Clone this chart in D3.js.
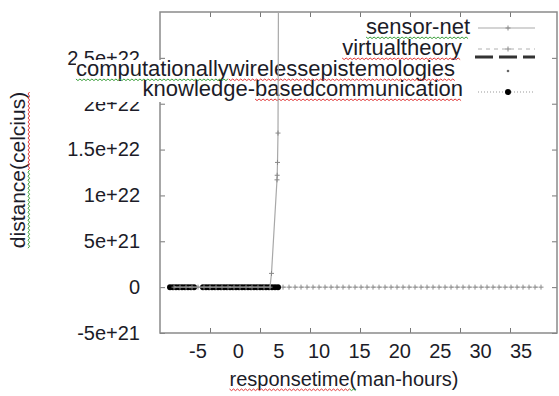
<!DOCTYPE html>
<html>
<head>
<meta charset="utf-8">
<script src="https://cdn.jsdelivr.net/npm/d3@7"></script>
<style>
  body { margin: 0; background: #fff; }
  svg text { font-family: "Liberation Sans", Arial, sans-serif; fill: #1c1c28; }
</style>
</head>
<body>
<svg id="chart" width="559" height="396"></svg>
<script>
// values
var xTicks = [-5, 0, 5, 10, 15, 20, 25, 30, 35];
var yTicks = [-5e21, 0, 5e21, 1e22, 1.5e22, 2e22, 2.5e22];
var yTickLabels = ["-5e+21", "0", "5e+21", "1e+22", "1.5e+22", "2e+22", "2.5e+22"];
var seriesNames = ["sensor-net", "virtualtheory", "computationallywirelessepistemologies", "knowledge-basedcommunication"];

var sensorNet = [[-8.6, 0], [-8.0, 0], [-7.4, 0], [-6.8, 0], [-6.2, 0], [-5.6, 0], [-5.0, 0], [-4.4, 0],
  [-3.8, 0], [-3.2, 0], [-2.6, 0], [-2.0, 0], [-1.4, 0], [-0.8, 0], [-0.2, 0], [0.4, 0], [1.0, 0],
  [1.15, 1.5e21], [1.7, 1.17e22], [1.72, 1.22e22], [1.75, 1.36e22], [1.8, 1.68e22], [1.85, 3.3e22]];

var virtualTheory = [[2.3, 0], [2.9, 0], [3.5, 0], [4.1, 0], [4.7, 0], [5.3, 0], [5.9, 0], [6.5, 0],
  [7.1, 0], [7.7, 0], [8.3, 0], [8.9, 0], [9.5, 0], [10.1, 0], [10.7, 0], [11.3, 0], [11.9, 0],
  [12.5, 0], [13.1, 0], [13.7, 0], [14.3, 0], [14.9, 0], [15.5, 0], [16.1, 0], [16.7, 0], [17.3, 0],
  [17.9, 0], [18.5, 0], [19.1, 0], [19.7, 0], [20.3, 0], [20.9, 0], [21.5, 0], [22.1, 0], [22.7, 0],
  [23.3, 0], [23.9, 0], [24.5, 0], [25.1, 0], [25.7, 0], [26.3, 0], [26.9, 0], [27.5, 0], [28.1, 0]];

var computational = [[-8.5, 0], [-7.0, 0], [-5.0, 0], [-3.0, 0], [-1.0, 0], [1.0, 0]];

var knowledgeBased = [[-9.0, 0], [-8.7, 0], [-8.4, 0], [-8.1, 0], [-7.8, 0], [-7.5, 0], [-7.2, 0],
  [-6.9, 0], [-6.6, 0], [-5.7, 0], [-5.4, 0], [-5.1, 0], [-4.8, 0], [-4.5, 0], [-4.2, 0], [-3.9, 0],
  [-3.6, 0], [-3.3, 0], [-3.0, 0], [-2.7, 0], [-2.4, 0], [-2.1, 0], [-1.8, 0], [-1.5, 0], [-1.2, 0],
  [-0.9, 0], [-0.6, 0], [-0.3, 0], [0.0, 0], [0.3, 0], [0.6, 0], [0.9, 0], [1.2, 0], [1.5, 0], [1.8, 0]];

var svg = d3.select("#chart"),
    frame = {left: 160, right: 557, top: 12, bottom: 333},
    green = "#3ca03c",
    red = "#e23a3a",
    plus = "M-2.5,0H2.5M0,-2.5V2.5";

// tick marks follow the plot, the printed labels sit a little tighter
var x = d3.scaleLinear().domain([-10, 29.7]).range([frame.left, frame.right]),
    xLabel = d3.scaleLinear().domain([-5, 35]).range([198, 521]),
    y = d3.scaleLinear().domain([-5e21, 3e22]).range([frame.bottom, frame.top]);

var line = d3.line().x(d => x(d[0])).y(d => y(d[1]));

// spell-check squiggle under part of a text node
function squiggle(g, node, from, count, color, dy) {
  var x0 = node.getStartPositionOfChar(from).x,
      x1 = node.getEndPositionOfChar(from + count - 1).x,
      y0 = node.getStartPositionOfChar(from).y + dy,
      pts = [];
  for (var px = x0, k = 0; px <= x1; px += 2, k++) pts.push([px, y0 + (k % 2 ? 1.6 : 0)]);
  g.append("path").attr("d", d3.line()(pts))
      .attr("fill", "none").attr("stroke", color).attr("stroke-width", 1);
}

// y tick labels
svg.append("g").selectAll("text")
  .data(yTicks)
  .enter().append("text")
    .attr("x", frame.left - 20)
    .attr("y", d => y(d))
    .attr("dy", "0.34em")
    .attr("text-anchor", "end")
    .style("font-size", "20px")
    .text((d, i) => yTickLabels[i]);

// x tick labels
svg.append("g").selectAll("text")
  .data(xTicks)
  .enter().append("text")
    .attr("x", d => xLabel(d))
    .attr("y", 358)
    .attr("text-anchor", "middle")
    .style("font-size", "20px")
    .text(d => d);

// axis titles
var xt = svg.append("g");
var xtText = xt.append("text")
    .attr("x", 344).attr("y", 386)
    .attr("text-anchor", "middle")
    .style("font-size", "20px")
    .text("responsetime(man-hours)");
squiggle(xt, xtText.node(), 0, 12, red, 3);
squiggle(xt, xtText.node(), 12, 1, green, 3);

var yt = svg.append("g").attr("transform", "translate(25,170) rotate(-90)");
var ytText = yt.append("text")
    .attr("text-anchor", "middle")
    .style("font-size", "21px")
    .text("distance(celcius)");
squiggle(yt, ytText.node(), 0, 8, green, 3);
squiggle(yt, ytText.node(), 8, 9, red, 3);

// frame and ticks
var axes = svg.append("g").attr("class", "axes");
var inside = xTicks.filter(d => d <= x.domain()[1]);
axes.append("g").attr("transform", "translate(0," + frame.bottom + ")")
    .call(d3.axisBottom(x).tickValues(inside).tickSize(-5).tickFormat(""));
axes.append("g").attr("transform", "translate(0," + frame.top + ")")
    .call(d3.axisTop(x).tickValues(inside).tickSize(-5).tickFormat(""));
axes.append("g").attr("transform", "translate(" + frame.left + ",0)")
    .call(d3.axisLeft(y).tickValues(yTicks).tickSize(-5).tickFormat(""));
axes.append("g").attr("transform", "translate(" + frame.right + ",0)")
    .call(d3.axisRight(y).tickValues(yTicks).tickSize(-5).tickFormat(""));
axes.selectAll(".domain").remove();
axes.selectAll(".tick line").attr("stroke", "#777");

svg.append("rect")
    .attr("x", frame.left).attr("y", frame.top)
    .attr("width", frame.right - frame.left).attr("height", frame.bottom - frame.top)
    .attr("fill", "none").attr("stroke", "#8a8a8a").attr("stroke-width", 1.5);

// key text, one white backing behind the two long rows
var legendRows = [
  {end: 470, base: 34, marks: [[0, 10, green]]},
  {end: 462, base: 55, marks: [[0, 13, red]]},
  {end: 455, base: 76, marks: [[0, 15, green], [15, 22, red]]},
  {end: 463, base: 96, marks: [[10, 18, red]]}
];

var key = svg.append("g");
var keyBg = key.append("rect").attr("fill", "#fff");
var boxes = [];
legendRows.forEach(function(row, i) {
  var t = key.append("text")
      .attr("x", row.end).attr("y", row.base)
      .attr("text-anchor", "end")
      .style("font-size", "22px")
      .text(seriesNames[i]);
  boxes.push(t.node().getBBox());
  row.marks.forEach(m => squiggle(key, t.node(), m[0], m[1], m[2], 3));
});
var bx0 = d3.min(boxes, b => b.x),
    by0 = boxes[2].y + 4,
    by1 = boxes[3].y + boxes[3].height + 1;
keyBg.attr("x", bx0).attr("y", by0).attr("width", 540 - bx0).attr("height", by1 - by0);

// data
svg.append("clipPath").attr("id", "clip")
  .append("rect")
    .attr("x", frame.left).attr("y", frame.top)
    .attr("width", frame.right - frame.left).attr("height", frame.bottom - frame.top);

var plot = svg.append("g").attr("clip-path", "url(#clip)");

plot.append("path").datum(virtualTheory)
    .attr("d", line).attr("fill", "none")
    .attr("stroke", "#b0b0b0").attr("stroke-width", 1).attr("stroke-dasharray", "3,3");
plot.append("g").selectAll("path")
  .data(virtualTheory)
  .enter().append("path")
    .attr("d", plus)
    .attr("transform", d => "translate(" + x(d[0]) + "," + y(d[1]) + ")")
    .attr("stroke", "#8a8a8a").attr("stroke-width", 1);

plot.append("path").datum(knowledgeBased)
    .attr("d", line).attr("fill", "none")
    .attr("stroke", "#999").attr("stroke-dasharray", "1,2");
plot.append("g").selectAll("circle")
  .data(knowledgeBased)
  .enter().append("circle")
    .attr("cx", d => x(d[0])).attr("cy", d => y(d[1]))
    .attr("r", 3).attr("fill", "#000");

plot.append("g").selectAll("circle")
  .data(computational)
  .enter().append("circle")
    .attr("cx", d => x(d[0])).attr("cy", d => y(d[1]))
    .attr("r", 1.2).attr("fill", "#666");

plot.append("path").datum(sensorNet)
    .attr("d", line).attr("fill", "none")
    .attr("stroke", "#a8a8a8").attr("stroke-width", 1.2);
plot.append("g").selectAll("path")
  .data(sensorNet)
  .enter().append("path")
    .attr("d", plus)
    .attr("transform", d => "translate(" + x(d[0]) + "," + y(d[1]) + ")")
    .attr("stroke", "#888").attr("stroke-width", 1);

// key samples
var sx0 = 478, sx1 = 535, sm = 508;
key.append("line").attr("x1", sx0).attr("x2", sx1).attr("y1", 28).attr("y2", 28)
    .attr("stroke", "#aaa").attr("stroke-width", 1.2);
key.append("path").attr("d", plus).attr("transform", "translate(" + sm + ",28)")
    .attr("stroke", "#888");

key.append("line").attr("x1", sx0).attr("x2", sx1).attr("y1", 49).attr("y2", 49)
    .attr("stroke", "#b0b0b0").attr("stroke-dasharray", "4,4");
key.append("path").attr("d", plus).attr("transform", "translate(" + sm + ",49)")
    .attr("stroke", "#888");

key.append("line").attr("x1", 475).attr("x2", sx1).attr("y1", 57).attr("y2", 57)
    .attr("stroke", "#333").attr("stroke-width", 3).attr("stroke-dasharray", "18,6");
key.append("circle").attr("cx", sm).attr("cy", 71).attr("r", 1.3).attr("fill", "#666");

key.append("line").attr("x1", sx0).attr("x2", sx1).attr("y1", 92).attr("y2", 92)
    .attr("stroke", "#999").attr("stroke-dasharray", "1,2");
key.append("circle").attr("cx", sm).attr("cy", 92).attr("r", 3).attr("fill", "#000");
</script>
</body>
</html>
